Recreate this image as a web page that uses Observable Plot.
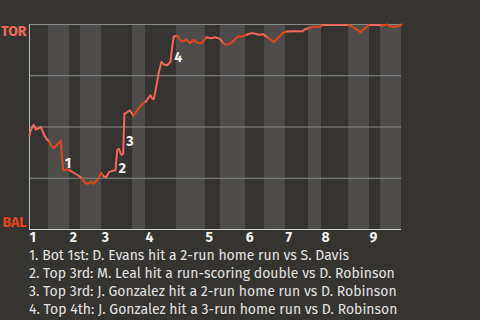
<!DOCTYPE html>
<html><head><meta charset="utf-8">
<script src="https://cdn.jsdelivr.net/npm/d3@7"></script>
<script src="https://cdn.jsdelivr.net/npm/@observablehq/plot@0.6"></script>
<style>
html,body{margin:0;background:#363430;}
body{font-family:"Fira Sans","Roboto","Noto Sans",sans-serif;}
#cap{color:#e2e2e2;font-size:14px;line-height:18px;padding-left:29px;margin-top:0;}
</style></head><body>
<div id="chart"></div>
<div id="cap"></div>
<script>
// play index (0–100 across the game) and Toronto win probability
const plays = [0,0.3,1.1,1.7,2.4,3.1,4.0,4.7,5.3,5.8,6.5,7.3,8.4,8.7,9.1,10.2,10.9,12.3,13.4,14.1,14.8,15.4,16.0,16.6,17.2,18.1,18.7,19.3,19.9,20.6,21.4,22.6,23.1,23.6,24.0,24.7,25.2,25.5,25.8,27.0,27.9,29.0,30.3,31.2,32.5,33.0,33.4,33.9,34.8,35.5,36.1,37.0,37.9,38.4,38.8,39.7,40.6,41.3,42.2,43.1,44.2,45.1,46.2,46.9,47.6,48.7,50.0,51.2,52.1,52.7,53.8,54.9,56.0,57.4,58.5,59.6,60.8,61.6,62.8,63.9,65.2,65.7,67.0,68.2,69.1,71.0,72.8,73.4,74.2,75.1,76.4,78.2,78.7,85.8,86.7,88.1,89.0,89.4,90.3,90.9,91.5,93.9,94.5,96.2,97.0,98.8,100];
const torProb = [0.459,0.483,0.511,0.488,0.493,0.499,0.459,0.439,0.429,0.410,0.397,0.410,0.434,0.353,0.288,0.293,0.288,0.272,0.260,0.250,0.231,0.223,0.226,0.234,0.223,0.239,0.255,0.277,0.260,0.255,0.280,0.288,0.288,0.389,0.394,0.364,0.369,0.566,0.566,0.582,0.555,0.582,0.610,0.623,0.655,0.639,0.636,0.680,0.769,0.818,0.805,0.801,0.818,0.899,0.941,0.945,0.922,0.917,0.927,0.909,0.925,0.911,0.909,0.922,0.938,0.933,0.938,0.930,0.909,0.902,0.904,0.922,0.941,0.943,0.951,0.958,0.955,0.950,0.953,0.938,0.922,0.914,0.938,0.960,0.966,0.967,0.967,0.967,0.978,0.982,0.989,0.989,0.998,0.998,0.990,0.974,0.961,0.971,0.982,0.994,0.998,0.998,0.994,1.0,0.990,0.990,1.0];
// start of each half inning (top 1st, bot 1st, top 2nd, ...) and game end
const halfStarts = [0,5.1,10.8,13.7,19.4,27.7,31.2,39.5,47.3,51.3,58.1,63.2,68.8,75.0,78.5,85.8,91.4,94.4,100];
const inningLabels = ["1","2","3","4","5","6","7","8","9"];
const teamLabels = ["BAL","TOR"];
const teamColors = ["#e2461e","#ef6a5c"];
// key plays: number, from point, to point
const eventNums = [1,2,3,4];
const eventFrom = [12,32,36,52];
const eventTo = [14,33,37,54];
const captions = [
  "1. Bot 1st: D. Evans hit a 2-run home run vs S. Davis",
  "2. Top 3rd: M. Leal hit a run-scoring double vs D. Robinson",
  "3. Top 3rd: J. Gonzalez hit a 2-run home run vs D. Robinson",
  "4. Top 4th: J. Gonzalez hit a 3-run home run vs D. Robinson"
];

const pts = plays.map((x, i) => {
  const h = d3.bisectRight(halfStarts, x) - 1;
  return {x, p: torProb[i], h: Math.min(h, 17)};
});
const segs = [];
let run = 0;
for (let i = 0; i < pts.length; i++) {
  if (i > 0 && pts[i].h !== pts[i-1].h) run++;
  const team = pts[i].h % 2 === 0 ? "TOR" : "BAL";
  segs.push({x: pts[i].x, p: pts[i].p, run, team});
  if (i + 1 < pts.length && pts[i+1].h !== pts[i].h) {
    segs.push({x: pts[i+1].x, p: pts[i+1].p, run, team});
  }
}
const bands = [];
for (let i = 1; i < halfStarts.length - 1; i += 2) bands.push({x1: halfStarts[i], x2: halfStarts[i+1]});
const innings = inningLabels.map((t, i) => ({x: halfStarts[i*2], t}));
const events = eventNums.map((n, i) => ({
  n: String(n),
  x: (plays[eventFrom[i]] + plays[eventTo[i]]) / 2,
  p: (torProb[eventFrom[i]] + torProb[eventTo[i]]) / 2
}));

const chart = Plot.plot({
  width: 480, height: 247,
  marginTop: 24, marginBottom: 18, marginLeft: 29, marginRight: 79,
  style: {background: "transparent", fontFamily: '"Fira Sans","Roboto","Noto Sans",sans-serif'},
  x: {domain: [0, 100], axis: null},
  y: {domain: [0, 1], axis: null},
  color: {domain: ["TOR","BAL"], range: [teamColors[1], teamColors[0]]},
  marks: [
    Plot.rect(bands, {x1: "x1", x2: "x2", y1: 0, y2: 1, fill: "#4e4d4b"}),
    Plot.ruleY([0.25, 0.5, 0.75, 1], {stroke: "#8a8a8a", strokeWidth: 1}),
    Plot.ruleY([0], {stroke: "#cfcfcf"}),
    Plot.ruleX([0], {stroke: "#bdbdbd"}),
    Plot.line(segs, {x: "x", y: "p", z: "run", stroke: "team", strokeWidth: 2, strokeLinejoin: "round", strokeLinecap: "round"}),
    Plot.text(events, {x: "x", y: "p", text: "n", dx: 6, dy: 8, fill: "#f2f2f2", fontSize: 14, fontWeight: "bold"}),
    Plot.text(innings, {x: "x", text: "t", frameAnchor: "bottom", lineAnchor: "top", textAnchor: "start", dy: 3, fill: "#f0f0f0", fontSize: 14, fontWeight: "bold"}),
    Plot.text([1], {y: d => d, text: () => teamLabels[1], frameAnchor: "left", textAnchor: "end", lineAnchor: "top", dx: -3, dy: 2, fill: teamColors[1], fontSize: 14, fontWeight: "bold"}),
    Plot.text([0], {y: d => d, text: () => teamLabels[0], frameAnchor: "left", textAnchor: "end", lineAnchor: "bottom", dx: -3, dy: -3, fill: teamColors[0], fontSize: 14, fontWeight: "bold"})
  ]
});
document.getElementById("chart").appendChild(chart);
document.getElementById("cap").innerHTML = captions.map(c => `<div>${c}</div>`).join("");
</script>
</body></html>
